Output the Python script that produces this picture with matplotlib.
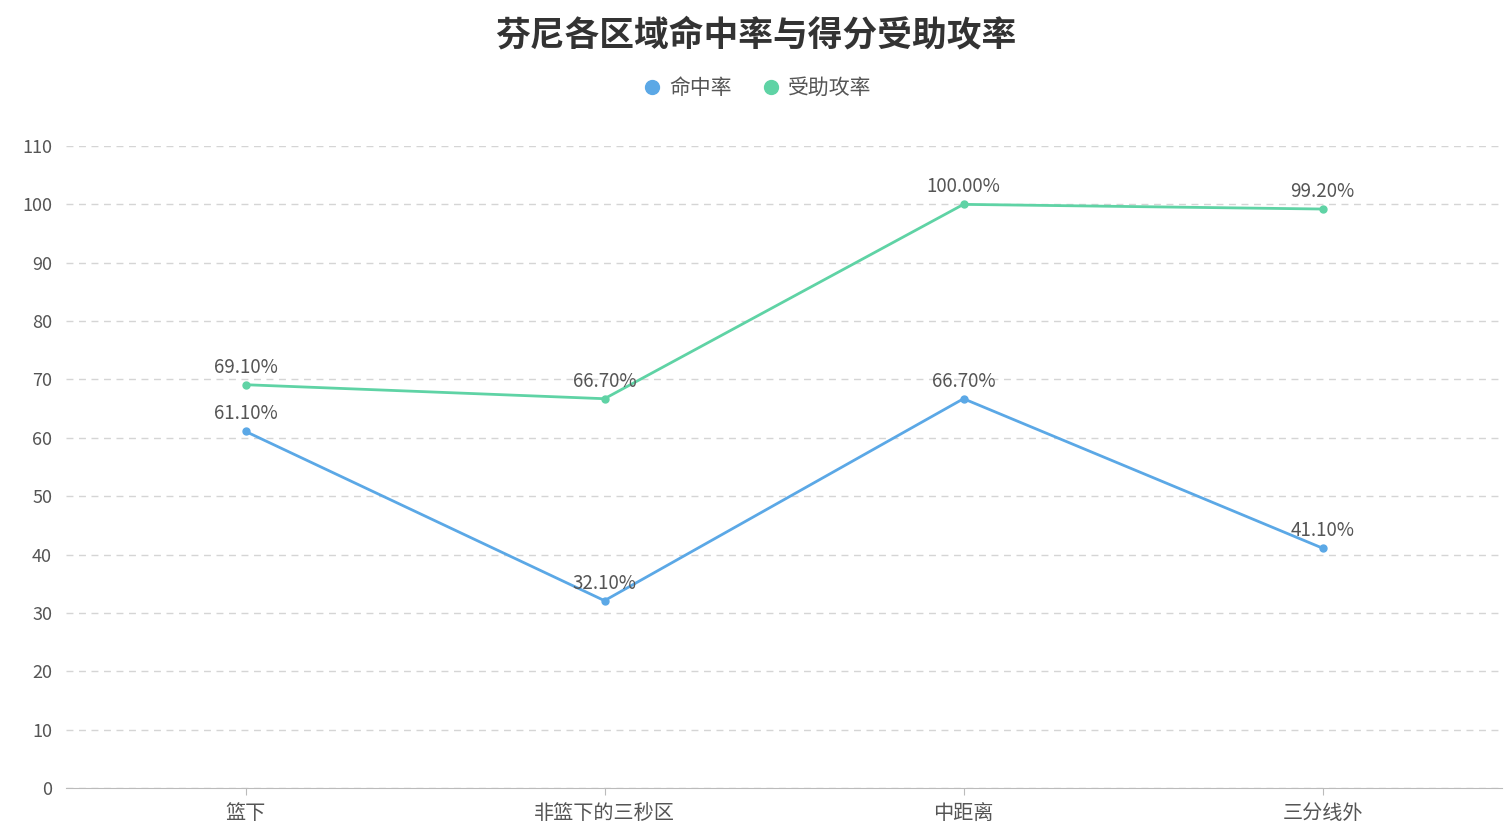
import matplotlib
matplotlib.use("Agg")
import matplotlib.pyplot as plt
from matplotlib.lines import Line2D

plt.rcParams['font.family'] = ['Noto Sans CJK SC', 'DejaVu Sans']

# data
zones = ['篮下', '非篮下的三秒区', '中距离', '三分线外']
fg_pct = [61.1, 32.1, 66.7, 41.1]
assisted_pct = [69.1, 66.7, 100.0, 99.2]
series_names = ['命中率', '受助攻率']
yticks = list(range(0, 111, 10))

BLUE = '#5ba8e6'
GREEN = '#5fd3a5'
TEXT = '#555555'

fig = plt.figure(figsize=(15.11, 8.4), dpi=100)
ax = fig.add_axes([66 / 1511, 52 / 840, 1436 / 1511, 642 / 840])

x = list(range(len(zones)))
for vals, color in [(fg_pct, BLUE), (assisted_pct, GREEN)]:
    ax.plot(x, vals, color=color, lw=2, marker='o', ms=5, zorder=3)
    for xi, v in zip(x, vals):
        ax.annotate(f'{v:.2f}%', (xi, v), xytext=(0, 5), textcoords='offset points',
                    ha='center', va='bottom', fontsize=13.5, color=TEXT, zorder=4)

ax.set_xlim(-0.5, len(zones) - 0.5)
ax.set_ylim(0, 110)
ax.set_yticks(yticks)
ax.set_xticks(x)
ax.set_xticklabels(zones, fontsize=14.5, color=TEXT)
ax.tick_params(axis='y', length=0, pad=10, labelsize=13, labelcolor=TEXT)
ax.tick_params(axis='x', length=5, color='#bbbbbb', pad=6)
ax.grid(axis='y', color='#d5d5d5', ls=(0, (5, 4)), lw=1)
for s in ['top', 'right', 'left']:
    ax.spines[s].set_visible(False)
ax.spines['bottom'].set_color('#bbbbbb')
ax.set_axisbelow(True)

fig.text(0.5, 1 - 35 / 840, '芬尼各区域命中率与得分受助攻率', ha='center', va='center',
         fontsize=25, fontweight='bold', color='#333333')

handles = [Line2D([], [], ls='none', marker='o', ms=10, color=c) for c in (BLUE, GREEN)]
fig.legend(handles, series_names, loc='center', bbox_to_anchor=(0.5, 1 - 88 / 840),
           ncol=2, frameon=False, fontsize=15, handletextpad=0.2, columnspacing=1.3,
           handlelength=1.2, labelcolor=TEXT)

fig.savefig('out.png', dpi=100, facecolor='white')
